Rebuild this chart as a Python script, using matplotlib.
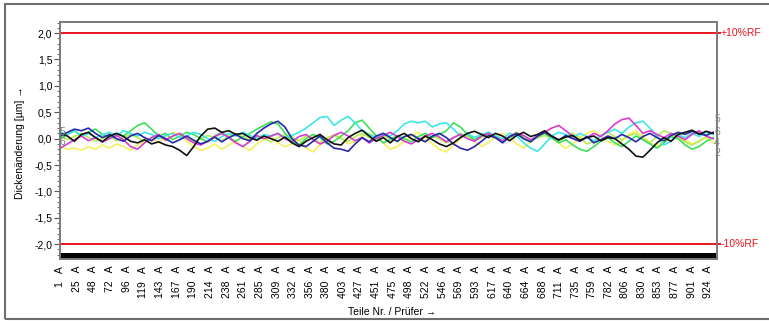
import numpy as np
import matplotlib
matplotlib.use("Agg")
import matplotlib.pyplot as plt
from matplotlib.ticker import MultipleLocator, FixedLocator, FuncFormatter
from matplotlib.patches import Rectangle

plt.rcParams['font.family'] = ['Liberation Sans', 'DejaVu Sans']

# ---------------- data ----------------
n_parts = 936
step = 10
parts = np.arange(1, n_parts + 1, step)  # 1 .. 931

tick_parts = [1, 25, 48, 72, 96, 119, 143, 167, 190, 214, 238, 261, 285, 309, 332,
              356, 380, 403, 427, 451, 475, 498, 522, 546, 569, 593, 617, 640, 664,
              688, 711, 735, 759, 782, 806, 830, 853, 877, 901, 924]
tick_labels = [f"{p}   A" for p in tick_parts]

yellow = [-0.15, -0.20, -0.18, -0.22, -0.15, -0.20, -0.12, -0.18, -0.10, -0.15,
          -0.22, -0.12, -0.05, 0.02, -0.08, 0.05, 0.12, 0.08, -0.05, -0.15,
          -0.22, -0.18, -0.10, -0.20, -0.12, -0.05, -0.15, -0.22, -0.10, -0.02,
          0.05, -0.08, -0.15, -0.10, -0.02, -0.18, -0.25, -0.12, 0.00, 0.08,
          0.02, -0.10, -0.05, 0.05, 0.10, 0.02, -0.08, -0.20, -0.15, -0.05,
          0.05, 0.12, 0.02, -0.10, -0.20, -0.25, -0.12, 0.00, 0.08, -0.05,
          -0.15, -0.08, 0.05, 0.10, 0.02, -0.10, -0.18, -0.05, 0.05, 0.12,
          0.05, -0.08, -0.18, -0.10, 0.02, 0.10, 0.15, 0.05, -0.05, -0.12,
          -0.05, 0.08, 0.15, 0.05, -0.08, -0.15, -0.05, 0.05, 0.10, -0.02,
          -0.10, -0.05, 0.02, -0.08]

lime = [0.05, -0.02, 0.04, 0.10, 0.02, -0.05, 0.00, 0.06, -0.04, 0.02,
        0.08, 0.02, -0.06, 0.00, 0.05, -0.03, 0.04, 0.10, 0.02, -0.05,
        0.00, 0.06, 0.02, -0.04, 0.05, 0.10, 0.03, -0.02, 0.04, 0.00,
        -0.06, 0.02, 0.08, 0.03, -0.04, 0.05, 0.00, -0.08, 0.02, 0.06,
        0.00, -0.05, 0.04, 0.10, 0.02, -0.04, 0.05, 0.00, -0.06, 0.03,
        0.08, 0.02, -0.05, 0.04, 0.00, -0.08, 0.02, 0.10, 0.04, -0.03,
        0.02, 0.08, 0.00, -0.06, 0.05, 0.12, 0.04, -0.04, 0.02, 0.06,
        0.00, -0.06, 0.04, 0.10, 0.02, -0.10, -0.05, 0.05, 0.12, 0.04,
        -0.02, 0.06, 0.10, 0.00, -0.08, 0.04, 0.15, 0.10, 0.02, -0.06,
        -0.12, -0.05, 0.04, 0.00]

green = [0.00, 0.08, 0.15, 0.05, 0.12, 0.18, 0.08, 0.02, 0.10, 0.05,
         0.15, 0.25, 0.30, 0.18, 0.05, 0.10, -0.02, 0.05, 0.12, 0.08,
         0.00, -0.06, 0.05, 0.12, 0.02, -0.05, 0.04, 0.10, 0.18, 0.25,
         0.32, 0.28, 0.10, -0.05, -0.12, 0.00, 0.08, 0.02, -0.10, -0.05,
         0.05, 0.15, 0.30, 0.35, 0.20, 0.05, -0.08, -0.02, 0.06, 0.00,
         -0.06, 0.04, 0.10, 0.02, 0.08, 0.15, 0.30, 0.22, 0.08, -0.02,
         0.05, 0.12, 0.04, -0.05, 0.02, 0.08, 0.00, -0.06, 0.04, 0.10,
         0.02, -0.08, -0.02, -0.12, -0.20, -0.24, -0.15, -0.05, 0.02, -0.08,
         -0.15, -0.05, 0.05, -0.02, -0.10, -0.18, -0.08, 0.04, 0.00, -0.12,
         -0.20, -0.15, -0.05, 0.02]

cyan = [0.12, 0.08, 0.15, 0.05, 0.10, 0.02, 0.08, 0.12, 0.05, 0.15,
        0.10, 0.05, 0.12, 0.08, 0.00, 0.06, 0.10, 0.02, 0.05, 0.12,
        0.08, 0.00, -0.05, 0.04, 0.10, 0.05, 0.12, 0.06, 0.00, 0.08,
        0.05, 0.10, 0.02, 0.06, 0.12, 0.20, 0.30, 0.40, 0.42, 0.25,
        0.35, 0.42, 0.30, 0.15, 0.08, 0.02, 0.10, 0.05, 0.15, 0.28,
        0.33, 0.30, 0.33, 0.22, 0.28, 0.30, 0.18, 0.05, 0.10, 0.02,
        0.08, 0.12, 0.05, 0.00, 0.10, 0.05, -0.08, -0.18, -0.24, -0.10,
        0.05, 0.12, 0.08, 0.02, 0.10, 0.04, -0.05, 0.06, 0.12, 0.18,
        0.10, 0.22, 0.30, 0.33, 0.20, 0.05, -0.12, -0.05, 0.08, 0.02,
        0.10, 0.04, 0.12, 0.08]

magenta = [-0.18, -0.10, -0.02, 0.05, -0.04, 0.02, -0.06, 0.00, 0.06, -0.02,
           -0.15, -0.20, -0.08, 0.02, 0.08, -0.03, 0.05, 0.10, 0.00, -0.08,
           -0.12, -0.05, 0.04, 0.10, 0.02, -0.08, -0.15, -0.05, 0.06, 0.00,
           0.05, 0.10, 0.00, -0.06, 0.04, 0.08, -0.02, -0.10, -0.05, 0.06,
           0.12, 0.05, -0.04, 0.02, -0.08, 0.00, 0.06, 0.12, 0.04, -0.05,
           -0.10, -0.02, 0.05, 0.10, 0.03, -0.06, 0.02, 0.08, 0.00, -0.05,
           0.05, 0.10, 0.02, -0.04, 0.04, 0.10, 0.06, -0.02, 0.05, 0.12,
           0.20, 0.25, 0.15, 0.05, -0.05, 0.02, 0.10, 0.04, 0.15, 0.28,
           0.36, 0.39, 0.25, 0.10, 0.15, 0.08, 0.02, 0.10, 0.05, -0.02,
           0.08, 0.15, 0.05, 0.00]

navy = [0.05, 0.12, 0.18, 0.15, 0.20, 0.10, 0.02, 0.08, 0.00, -0.05,
        0.05, 0.10, 0.02, -0.04, 0.06, 0.00, -0.08, -0.02, 0.05, -0.03,
        -0.10, -0.05, 0.03, -0.06, 0.02, 0.08, 0.00, -0.04, 0.10, 0.20,
        0.28, 0.33, 0.22, 0.00, -0.12, -0.15, -0.05, 0.05, -0.08, -0.18,
        -0.20, -0.24, -0.10, 0.02, -0.06, 0.05, 0.10, 0.02, -0.05, 0.04,
        0.08, 0.00, -0.06, 0.05, 0.10, 0.02, -0.10, -0.18, -0.22, -0.15,
        -0.05, 0.06, 0.02, -0.08, 0.04, 0.10, 0.00, -0.06, 0.05, 0.12,
        0.04, -0.03, 0.06, 0.00, -0.05, 0.04, -0.08, -0.02, 0.05, 0.00,
        0.08, 0.02, -0.06, 0.04, 0.10, 0.02, -0.04, 0.06, 0.12, 0.08,
        0.14, 0.10, 0.06, 0.12]

black = [0.10, 0.05, -0.05, 0.08, 0.12, 0.02, -0.06, 0.05, 0.10, 0.04,
         -0.05, -0.08, -0.02, -0.10, -0.06, -0.12, -0.15, -0.22, -0.32, -0.15,
         0.05, 0.18, 0.20, 0.12, 0.15, 0.08, 0.10, 0.02, -0.03, 0.05,
         0.00, -0.05, 0.03, -0.08, -0.15, -0.05, 0.02, 0.08, -0.02, -0.10,
         -0.12, 0.02, 0.10, 0.16, 0.05, -0.05, 0.02, -0.08, 0.04, 0.10,
         0.00, -0.06, 0.05, -0.02, -0.10, -0.15, -0.08, 0.02, 0.10, 0.14,
         0.08, 0.02, 0.10, 0.05, -0.04, 0.06, 0.12, 0.04, 0.08, 0.15,
         0.05, -0.02, 0.03, 0.06, -0.03, 0.02, 0.05, -0.04, 0.02, 0.00,
         -0.10, -0.20, -0.33, -0.35, -0.22, -0.08, 0.02, -0.05, 0.08, 0.12,
         0.16, 0.08, 0.14, 0.10]

series = [yellow, lime, green, cyan, magenta, navy, black]
series_colors = ['#f4f060', '#b4f050', '#3ce05a', '#3ee6e6', '#d83cd0', '#2828a8', '#111111']

limit_values = [2.0, -2.0]
limit_labels = ['+10%RF', '-10%RF']

left_end_labels = ['5', '6']
left_end_values = [0.12, -0.07]
right_end_labels = ['5', '6', '4', '2']
right_end_values = [0.38, 0.12, -0.08, -0.27]

# ---------------- figure ----------------
W, H = 769, 322
fig = plt.figure(figsize=(W / 100, H / 100), dpi=100)
fig.patch.set_facecolor('white')

# outer frame
fig.patches.append(Rectangle((5 / W, 1 - 319 / H), 800 / W, (319 - 4) / H,
                             transform=fig.transFigure, fill=False,
                             edgecolor='#6e6e6e', linewidth=1.5))

ax = fig.add_axes([60 / W, 1 - 259 / H, (717 - 60) / W, (259 - 22) / H])

for vals, col in zip(series, series_colors):
    ax.plot(parts, vals, color=col, linewidth=1.2, solid_joinstyle='round')

for v in limit_values:
    ax.axhline(v, color='#e8141e', linewidth=1.4, xmin=0, xmax=1.005, clip_on=False)

trans = matplotlib.transforms.blended_transform_factory(ax.transAxes, ax.transData)
for v, lab in zip(limit_values, limit_labels):
    ax.text(1.006, v, lab, transform=trans, color='#e8141e', fontsize=7.5,
            ha='left', va='center')

for v, lab in zip(left_end_values, left_end_labels):
    ax.text(0.004, v, lab, transform=trans, color='#808080', fontsize=7.5,
            ha='center', va='center')
for v, lab in zip(right_end_values, right_end_labels):
    ax.text(1.0, v, lab, transform=trans, color='#808080', fontsize=7.5,
            ha='center', va='center', clip_on=False)

ax.set_xlim(0.5, n_parts + 0.5)
ax.set_ylim(-2.28, 2.21)

ax.yaxis.set_major_locator(MultipleLocator(0.5))
ax.yaxis.set_minor_locator(MultipleLocator(0.1))
ax.yaxis.set_major_formatter(FuncFormatter(lambda v, p: f"{v:.1f}".replace('.', ',').replace('-0,0', '0,0')))
ax.tick_params(axis='y', which='major', direction='out', length=4, width=0.8,
               color='#555555', labelsize=7.5, pad=1.5)
ax.tick_params(axis='y', which='minor', direction='out', length=2, width=0.6, color='#555555')

ax.xaxis.set_major_locator(FixedLocator(tick_parts))
ax.set_xticklabels(tick_labels, rotation=90, fontsize=7.5)
ax.xaxis.set_minor_locator(FixedLocator(np.arange(1, n_parts + 1)))
ax.tick_params(axis='x', which='both', direction='in', length=4.0, width=1.2,
               color='black', pad=5)
for lab in ax.get_xticklabels():
    lab.set_va('top')
    lab.set_ha('center')

for s in ax.spines.values():
    s.set_color('#7a7a7a')
    s.set_linewidth(1.4)

ax.set_ylabel('Dickenänderung [µm] →', fontsize=7.5, labelpad=3)
ax.set_xlabel('Teile Nr. / Prüfer →', fontsize=7.5, labelpad=6)
ax.yaxis.set_label_coords(-0.054, 0.49)
ax.xaxis.set_label_coords(0.505, -0.203)

fig.savefig('out.png', dpi=100)
